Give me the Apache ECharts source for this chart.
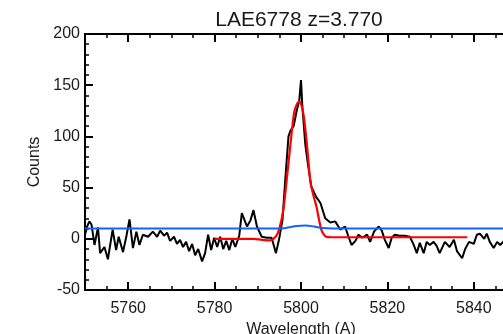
<!DOCTYPE html>
<html>
<head>
<meta charset="utf-8">
<script src="https://cdn.jsdelivr.net/npm/echarts@6/dist/echarts.min.js"></script>
<style>html,body{margin:0;padding:0;background:#fff;}#c{width:503px;height:334px;}</style>
</head>
<body>
<div id="c"></div>
<script>
// Observed spectrum (black)
var specWave = [5750.0,5750.5,5751.0,5751.5,5752.2,5753.0,5753.5,5754.5,5755.3,5756.4,5757.2,5757.8,5758.8,5759.6,5760.3,5761.1,5761.9,5762.6,5763.4,5764.6,5765.7,
5766.0,5766.7,5767.4,5768.3,5769.0,5769.7,5770.6,5771.3,5772.0,5772.7,5773.4,5774.1,5774.8,5775.5,5776.2,5777.1,5777.8,5778.5,5779.2,5779.9,5780.6,5781.3,5782.0,5782.7,5783.4,5784.1,5784.8,5785.7,
5786.3,5787.5,5788.3,5789.0,5789.8,5790.9,5792.1,5793.2,5794.2,5794.9,5795.7,5796.4,5797.1,5797.6,5798.3,5799.0,5799.6,5800.0,5800.3,5801.0,5801.7,5802.4,5803.5,5804.5,5805.6,5806.8,5807.9,5809.1,5810.2,5811.0,5811.7,5812.6,5813.3,5814.2,5815.3,5816.0,5816.9,5818.0,5818.7,5819.4,5820.3,5821.0,5821.7,5822.8,5824.0,5825.2,5826.1,5826.8,5827.5,5828.4,5829.1,5829.8,5830.7,5831.4,5832.1,5833.3,5834.4,5835.4,5836.1,5837.3,5838.0,5838.9,5840.0,5840.7,5841.4,5842.4,5843.0,5843.7,5844.6,5845.4,5846.1,5847.0,5848.4,5850.0];
var specCounts = [4,12,17,14,-6,11,-14,-8,-20,9,-11,2,-13,3,19,-9,7,-6,4,2,7,
7,2,8,3,6,-2,2,-5,-1,-8,-3,-12,-5,-16,-10,-22,-14,4,-11,1,-8,2,-10,-2,-11,0,-8,3,
25,12,18,28,12,2,1,1,-14,-1,18,60,100,106,110,125,135,155,130,92,70,51,41,35,20,16,17,9,12,2,-6,-2,4,1,4,-3,7,12,8,-1,-9,1,4,3,3,2,-6,-14,-4,-14,-3,-6,-3,-7,-14,-3,-8,-1,-12,-19,-10,-3,-5,4,5,0,5,-3,-9,-3,-6,-2,3,0];

// Line-profile fit (red)
var fitWave = [5780,5785,5789,5791,5792.9,5793.6,5794.3,5795.0,5795.9,5796.7,5797.5,5798.4,5799.0,5799.6,5800.2,5800.7,5801.3,5801.8,5802.2,5802.9,5803.6,5804.2,5804.7,5805.3,5805.8,5807,5815,5825,5838.5];
var fitCounts = [0,0,0,-1,-1.5,0,3,10,28,58,90,123,131,134,129,118,95,72,55,42,31,18,9,4,2,1.5,1.5,1.5,1.5];

// Continuum / sky level (blue)
var contWave = [5750,5770,5790,5795,5797,5799,5801,5803,5805,5810,5830,5850];
var contCounts = [10,10,10,10,11,12.5,13,12,10.5,10,10,10];

var xMajor = [5760,5780,5800,5820,5840];
var yTicks = [-50,0,50,100,150,200];

function pairs(xs, ys){ var o=[]; for(var i=0;i<xs.length;i++) o.push([xs[i], ys[i]]); return o; }

var FONT = 'Liberation Sans, Arial, sans-serif';
var TXT = '#1a1a1a';
var chart = echarts.init(document.getElementById('c'), null, {renderer:'canvas'});

function baseX(extra){
  var a = {type:'value', min:5750, max:5850, splitLine:{show:false}, axisLabel:{show:false},
    axisLine:{show:false, onZero:false}, axisTick:{show:false}};
  for (var k in extra) a[k]=extra[k];
  return a;
}
function majorFmt(v){ return xMajor.indexOf(Math.round(v)) >= 0 ? String(Math.round(v)) : ''; }

chart.setOption({
  animation:false,
  backgroundColor:'#fff',
  grid:{left:85, top:34, width:432, height:256, containLabel:false, outerBoundsMode:'none'},
  graphic:[{type:'text', x:299, y:20, style:{text:'LAE6778 z=3.770', font:'21px '+FONT, fill:TXT, textAlign:'center', textVerticalAlign:'middle'}}],
  xAxis:[
    baseX({position:'bottom', name:'Wavelength (A)', nameLocation:'middle', nameGap:29,
      nameTextStyle:{fontFamily:FONT, fontSize:16, color:TXT},
      axisLine:{show:true, onZero:false, lineStyle:{color:'#000', width:2}},
      axisTick:{show:true, inside:true, length:8, lineStyle:{color:'#000', width:2}, customValues:xMajor},
      axisLabel:{show:true, margin:11, fontFamily:FONT, fontSize:16, color:TXT, customValues:xMajor,
        hideOverlap:false, formatter:majorFmt}}),
    baseX({position:'bottom', interval:5,
      axisTick:{show:true, inside:true, length:4, lineStyle:{color:'#000', width:1.5}}}),
    baseX({position:'top',
      axisLine:{show:true, onZero:false, lineStyle:{color:'#000', width:2}},
      axisTick:{show:true, inside:true, length:8, lineStyle:{color:'#000', width:2}, customValues:xMajor}}),
    baseX({position:'top', interval:5,
      axisTick:{show:true, inside:true, length:4, lineStyle:{color:'#000', width:1.5}}})
  ],
  yAxis:[{
    type:'value', min:-50, max:200, interval:50, position:'left',
    name:'Counts', nameLocation:'middle', nameGap:42, nameRotate:90,
    nameTextStyle:{fontFamily:FONT, fontSize:16, color:TXT},
    splitLine:{show:false},
    axisLine:{show:true, onZero:false, lineStyle:{color:'#000', width:2}},
    axisTick:{show:true, inside:true, length:8, lineStyle:{color:'#000', width:2}},
    minorTick:{show:true, splitNumber:5, length:4, lineStyle:{color:'#000', width:1.5}},
    axisLabel:{margin:5, fontFamily:FONT, fontSize:16, color:TXT}
  }],
  series:[
    {type:'line', name:'data', data:pairs(specWave, specCounts), xAxisIndex:0, yAxisIndex:0,
      showSymbol:false, lineStyle:{color:'#000', width:2}, z:3},
    {type:'line', name:'fit', data:pairs(fitWave, fitCounts), xAxisIndex:0, yAxisIndex:0,
      showSymbol:false, smooth:0.3, lineStyle:{color:'#ff0000', width:2.2}, z:4},
    {type:'line', name:'cont', data:pairs(contWave, contCounts), xAxisIndex:0, yAxisIndex:0,
      showSymbol:false, smooth:0.4, lineStyle:{color:'#1262ff', width:2}, z:5}
  ]
});
</script>
</body>
</html>
